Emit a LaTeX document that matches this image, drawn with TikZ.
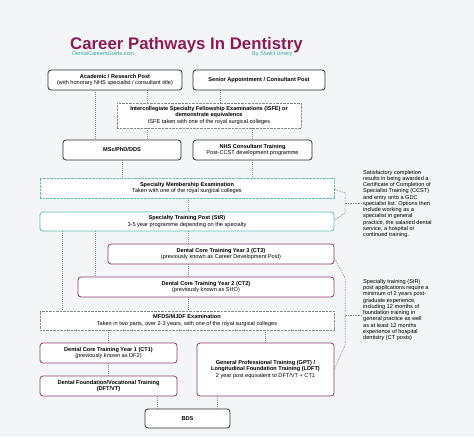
\documentclass[tikz,border=0pt]{standalone}
\usepackage{fontspec}
\setmainfont{Liberation Sans}
\usetikzlibrary{calc}
\definecolor{bgcol}{HTML}{F3F5F6}
\definecolor{titlecol}{HTML}{8E1B55}
\definecolor{tealcol}{HTML}{5BBFB2}
\definecolor{tealtext}{HTML}{35A898}
\definecolor{purpcol}{HTML}{8A3D6E}
\definecolor{linkgray}{HTML}{8A8A8A}
\definecolor{boxblack}{HTML}{2E2E2E}
\newcommand{\boxfont}{\fontsize{5.6}{6.6}\selectfont}
\newcommand{\notefont}{\fontsize{5.6}{6.25}\selectfont}
\tikzset{
  box/.style={draw=boxblack, fill=white, rounded corners=3pt, line width=0.8pt,
    align=center, inner sep=0pt, font=\boxfont},
  tealbox/.style={box, draw=tealcol},
  purpbox/.style={box, draw=purpcol},
  exambox/.style={box, rounded corners=0pt, draw=linkgray, line width=0.6pt,
    dash pattern=on 0.6pt off 0.8pt},
  tealexam/.style={exambox, draw=tealcol},
  link/.style={draw=linkgray, line width=0.6pt, dash pattern=on 0.7pt off 1.3pt},
  bracket/.style={draw=linkgray, line width=0.5pt, dash pattern=on 1.6pt off 1pt},
  note/.style={align=left, inner sep=0pt, font=\notefont, anchor=west}
}

\begin{document}
\begin{tikzpicture}[x=1pt,y=-1pt]
  \fill[bgcol] (0,0) rectangle (474,437);
  \useasboundingbox (0,0) rectangle (474,437);
  % title
  \node[font=\fontsize{16.8}{18}\selectfont\bfseries, text=titlecol, anchor=base west, inner sep=0pt] (title) at (70,49) {Career Pathways In Dentistry};
  \node[font=\fontsize{5.5}{6}\selectfont, text=tealtext, anchor=base west, inner sep=0pt] (site) at (72,55.5) {DentalCareersGuide.com};
  \node[font=\fontsize{5.5}{6}\selectfont, text=tealtext, anchor=base west, inner sep=0pt] (author) at (252,55.5) {By Shakil Umerji};

  % boxes
  \node[box, minimum width=134pt, minimum height=20pt] (acad) at (115,80) {\textbf{Academic / Research Post}\\(with honorary NHS specialist / consultant title)};
  \node[box, minimum width=132pt, minimum height=20pt] (senior) at (259,80) {\textbf{Senior Appointment / Consultant Post}};
  \node[exambox, minimum width=184pt, minimum height=25pt] (isfe) at (209,115.5) {\textbf{Intercollegiate Specialty Fellowship Examinations (ISFE) or}\\\textbf{demonstrate equivalence}\\ISFE taken with one of the royal surgical colleges};
  \node[box, minimum width=118pt, minimum height=20pt] (msc) at (122,150) {\textbf{MSc/PhD/DDS}};
  \node[box, minimum width=119pt, minimum height=20pt] (nhs) at (252.5,150) {\textbf{NHS Consultant Training}\\Post-CCST development programme};
  \node[tealexam, minimum width=294pt, minimum height=20pt] (smem) at (187,188) {\textbf{Specialty Membership Examination}\\Taken with one of the royal surgical colleges};
  \node[tealbox, minimum width=294pt, minimum height=19pt] (str) at (187,221.5) {\textbf{Specialty Training Post (StR)}\\3-5 year programme depending on the specialty};
  \node[purpbox, minimum width=226pt, minimum height=20pt] (ct3) at (221,254) {\textbf{Dental Core Training Year 3 (CT3)}\\(previously known as Career Development Post)};
  \node[purpbox, minimum width=256pt, minimum height=20pt] (ct2) at (206,287) {\textbf{Dental Core Training Year 2 (CT2)}\\(previously known as SHO)};
  \node[exambox, minimum width=294pt, minimum height=19pt] (mfds) at (187,320.5) {\textbf{MFDS/MJDF Examination}\\Taken in two parts, over 2-3 years, with one of the royal surgical colleges};
  \node[purpbox, minimum width=137pt, minimum height=20pt] (ct1) at (108.5,353) {\textbf{Dental Core Training Year 1 (CT1)}\\(previously known as DF2)};
  \node[purpbox, minimum width=137pt, minimum height=20pt] (dft) at (108.5,386) {\textbf{Dental Foundation/Vocational Training}\\\textbf{(DFT/VT)}};
  \node[purpbox, minimum width=137pt, minimum height=53pt] (gpt) at (265.5,369.5) {\textbf{General Professional Training (GPT) /}\\\textbf{Longitudinal Foundation Training (LDFT)}\\2 year post equivalent to DFT/VT + CT1};
  \node[box, minimum width=85pt, minimum height=19pt] (bds) at (187.5,418.5) {\textbf{BDS}};

  % notes
  \node[note] (note1) at (363,204) {Satisfactory completion\\results in being awarded a\\Certificate of Completion of\\Specialist Training (CCST)\\and entry onto a GDC\\specialist list. Options then\\include working as a\\specialist in general\\practice, the salaried dental\\service, a hospital or\\continued training.};
  \node[note] (note2) at (363,310) {Specialty training (StR)\\post applications require a\\minimum of 2 years post-\\graduate experience,\\including 12 months of\\foundation training in\\general practice as well\\as at least 12 months\\experience of hospital\\dentistry (CT posts)};

  % links
  \draw[link] ([xshift=-20pt]acad.south) -- ([xshift=-20pt]acad.south |- msc.north);
  \draw[link] ([xshift=32pt]acad.south) -- ([xshift=32pt]acad.south |- isfe.north);
  \draw[link] ([xshift=32pt]acad.south |- isfe.south) -- ([xshift=32pt]acad.south |- msc.north);
  \draw[link] ([xshift=-39pt]senior.south) -- ([xshift=-39pt]senior.south |- isfe.north);
  \draw[link] (isfe.south -| nhs.north) -- (nhs.north);
  \draw[link] (msc.south) -- (msc.south |- smem.north);
  \draw[link] (nhs.south) -- (nhs.south |- smem.north);
  \draw[link] ([xshift=1pt]smem.south) -- ([xshift=1pt]str.north);
  \draw[link] ([xshift=23pt]str.south west) -- ([xshift=23pt]str.south west |- mfds.north);
  \draw[link] ([xshift=56pt]str.south west) -- ([xshift=56pt]str.south west |- ct2.north);
  \draw[link] ([xshift=1pt]str.south) -- ([xshift=1pt]str.south |- ct3.north);
  \draw[link] ([xshift=1pt]str.south |- ct3.south) -- ([xshift=1pt]str.south |- ct2.north);
  \draw[link] ([xshift=1pt]mfds.north |- ct2.south) -- ([xshift=1pt]mfds.north);
  \draw[link] (mfds.south -| ct1.north) -- (ct1.north);
  \draw[link] (mfds.south -| gpt.north) -- (gpt.north);
  \draw[link] (ct1.south) -- (dft.north);
  \draw[link] ([xshift=13pt]bds.north west |- dft.south) -- ([xshift=13pt]bds.north west);
  \draw[link] ([xshift=-13pt]bds.north east |- gpt.south) -- ([xshift=-13pt]bds.north east);

  % brackets to the notes
  \coordinate (b1) at (345,203);
  \coordinate (b2) at (345,315);
  \draw[bracket] ([yshift=-1pt]smem.east) -- (345,193) -- (345,213) -- ([yshift=1.5pt]str.east);
  \draw[bracket] (b1) -- (note1.west |- b1);
  \draw[bracket] ([yshift=-4pt]ct3.east) -- (345,278) -- (345,345) -- (gpt.east);
  \draw[bracket] (b2) -- (note2.west |- b2);
\end{tikzpicture}
\end{document}
